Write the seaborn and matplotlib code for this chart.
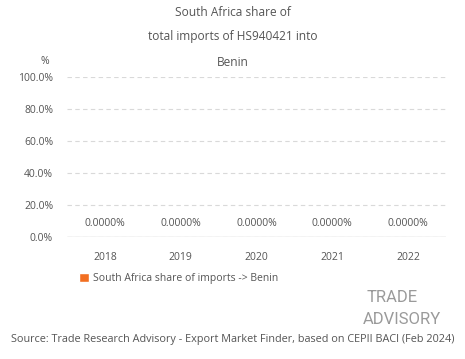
import pandas as pd
import seaborn as sns
import matplotlib.pyplot as plt
from matplotlib.ticker import PercentFormatter

years = ['2018', '2019', '2020', '2021', '2022']
share = [0.0, 0.0, 0.0, 0.0, 0.0]
series_name = 'South Africa share of imports -> Benin'

df = pd.DataFrame({'year': years, 'share': share, 'series': series_name})

sns.set_style('white')
plt.rcParams['font.family'] = ['Open Sans', 'DejaVu Sans']
txt = '#555555'
orange = '#F26F21'
fs = 7.5

fig = plt.figure(figsize=(4.65, 3.59), dpi=100)
ax = fig.add_axes([0.144, 0.34, 0.815, 0.446])
sns.barplot(data=df, x='year', y='share', hue='series', palette=[orange], saturation=1,
            ax=ax, width=0.6)

ax.set_ylim(0, 100)
ax.yaxis.set_major_formatter(PercentFormatter(decimals=1))
ax.set_yticks([0, 20, 40, 60, 80, 100])
ax.grid(axis='y', color='#d9d9d9', linestyle=(0, (4, 3)), linewidth=0.8)
ax.axhline(0, color='#d0d0d0', linewidth=1)
for s in ax.spines.values():
    s.set_visible(False)
ax.tick_params(axis='both', length=0, labelsize=fs, labelcolor=txt)
ax.tick_params(axis='x', pad=11)
ax.tick_params(axis='y', pad=10)
ax.set_xlabel('')
ax.set_ylabel('')

for c in ax.containers:
    ax.bar_label(c, labels=[f'{v:.4f}%' for v in share], padding=6, fontsize=fs, color=txt)

ax.legend(loc='upper left', bbox_to_anchor=(0.02, -0.2), frameon=False, fontsize=fs,
          labelcolor=txt, handlelength=1.0, handleheight=1.0, handletextpad=0.4, borderaxespad=0)

tfs = 8.6
fig.text(0.5, 0.966, 'South Africa share of', ha='center', va='center', fontsize=tfs, color=txt)
fig.text(0.5, 0.897, 'total imports of HS940421 into', ha='center', va='center', fontsize=tfs, color=txt)
fig.text(0.5, 0.827, 'Benin', ha='center', va='center', fontsize=tfs, color=txt)
fig.text(0.097, 0.830, '%', ha='center', va='center', fontsize=fs, color=txt)

# logo, approximated with text
logo = dict(ha='center', va='center', fontsize=12, color='#9a9a9a', family='Roboto')
fig.text(0.843, 0.172, 'TRADE', **logo)
fig.text(0.865, 0.110, 'ADVISORY', **logo)

fig.text(0.5, 0.053, 'Source: Trade Research Advisory - Export Market Finder, based on CEPII BACI (Feb 2024)',
         ha='center', va='center', fontsize=7.8, color=txt)

fig.savefig('out.png', dpi=100)
